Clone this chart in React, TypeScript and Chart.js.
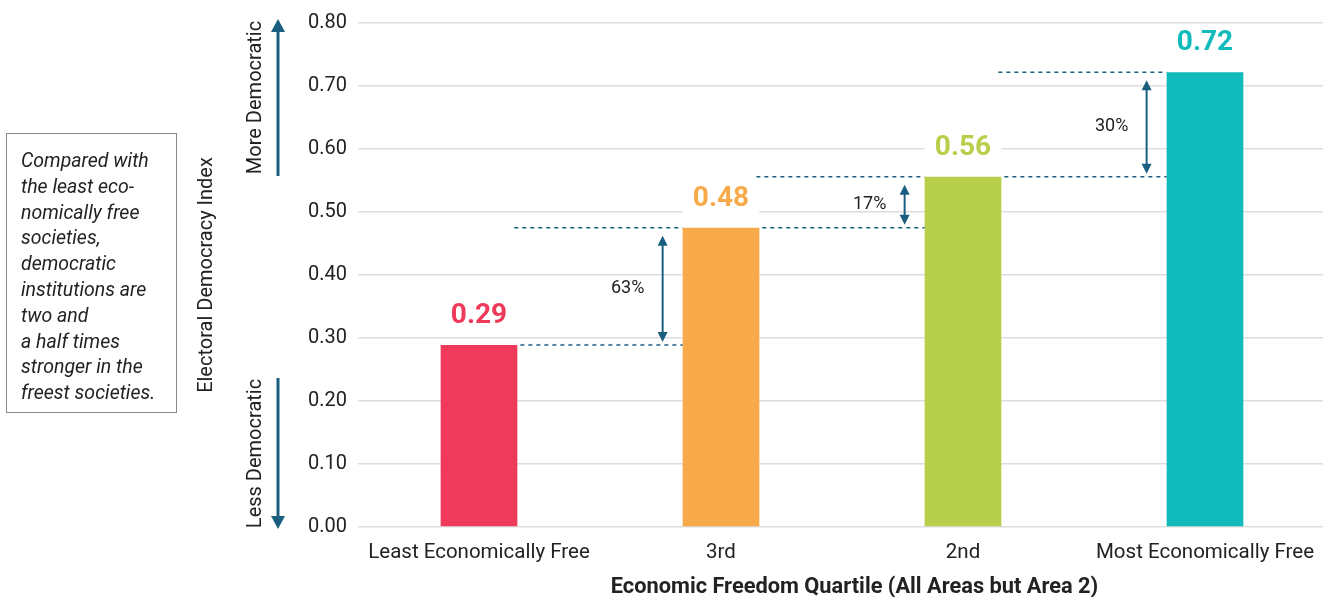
import React, { useEffect, useRef } from "react";
import { Chart, registerables } from "chart.js";
Chart.register(...registerables);

const categories = ["Least Economically Free", "3rd", "2nd", "Most Economically Free"];
const values = [0.289, 0.475, 0.556, 0.722];
const valueLabels = ["0.29", "0.48", "0.56", "0.72"];
const barColors = ["#EF3A5C", "#F8AA4B", "#B8CF4C", "#12BBBB"];
const changeLabels = ["63%", "17%", "30%"];
const yTitle = "Electoral Democracy Index";
const xTitle = "Economic Freedom Quartile (All Areas but Area 2)";
const upLabel = "More Democratic";
const downLabel = "Less Democratic";
const noteLines = [
  "Compared with",
  "the least eco-",
  "nomically free",
  "societies,",
  "democratic",
  "institutions are",
  "two and",
  "a half times",
  "stronger in the",
  "freest societies.",
];

const FONT = "Roboto, 'Noto Sans', sans-serif";
const ARROW = "#1B5F80";
const TEXT = "#222222";
const PAGE_W = 1323;
const CANVAS_W = 1328;

function drawArrowHead(ctx: CanvasRenderingContext2D, x: number, y: number, dir: number, w: number, h: number) {
  ctx.beginPath();
  ctx.moveTo(x, y);
  ctx.lineTo(x - w / 2, y + dir * h);
  ctx.lineTo(x + w / 2, y + dir * h);
  ctx.closePath();
  ctx.fill();
}

const annotationPlugin = {
  id: "annotations",
  afterDatasetsDraw(chart: any) {
    const ctx: CanvasRenderingContext2D = chart.ctx;
    const bars = chart.getDatasetMeta(0).data;
    ctx.save();
    for (let i = 0; i < bars.length - 1; i++) {
      const a = bars[i];
      const b = bars[i + 1];
      const x1 = a.x + a.width / 2;
      const x2 = b.x - b.width / 2;
      ctx.strokeStyle = ARROW;
      ctx.lineWidth = 1.5;
      ctx.setLineDash([4, 4]);
      ctx.beginPath();
      ctx.moveTo(x1 + 3, a.y);
      ctx.lineTo(x2, a.y);
      ctx.moveTo(x1 - 3, b.y);
      ctx.lineTo(x2, b.y);
      ctx.stroke();
      ctx.setLineDash([]);
      const ax = x2 - 20;
      const top = b.y + 8;
      const bot = a.y - 3;
      ctx.lineWidth = 2;
      ctx.beginPath();
      ctx.moveTo(ax, top + 6);
      ctx.lineTo(ax, bot - 6);
      ctx.stroke();
      ctx.fillStyle = ARROW;
      drawArrowHead(ctx, ax, top, 1, 10, 10);
      drawArrowHead(ctx, ax, bot, -1, 10, 10);
      ctx.fillStyle = TEXT;
      ctx.font = `18px ${FONT}`;
      ctx.textAlign = "center";
      ctx.textBaseline = "middle";
      ctx.fillText(changeLabels[i], ax - 35, (top + bot) / 2);
    }
    bars.forEach((el: any, i: number) => {
      const cy = el.y - 29;
      ctx.fillStyle = "#ffffff";
      ctx.fillRect(el.x - el.width / 2, cy - 17, el.width, 34);
      ctx.fillStyle = barColors[i];
      ctx.font = `bold 28px ${FONT}`;
      ctx.textAlign = "center";
      ctx.textBaseline = "middle";
      ctx.fillText(valueLabels[i], el.x, cy);
    });
    ctx.restore();
  },
  afterDraw(chart: any) {
    const ctx: CanvasRenderingContext2D = chart.ctx;
    const { left, top, bottom } = chart.chartArea;
    const ax = left - 80;
    const lx = left - 102;
    ctx.save();
    ctx.strokeStyle = ARROW;
    ctx.fillStyle = ARROW;
    ctx.lineWidth = 3;
    const upTop = top - 4;
    const upBot = top + 153;
    ctx.beginPath();
    ctx.moveTo(ax, upBot);
    ctx.lineTo(ax, upTop + 10);
    ctx.stroke();
    drawArrowHead(ctx, ax, upTop, 1, 14, 13);
    const dnTop = bottom - 149;
    const dnBot = bottom + 2;
    ctx.beginPath();
    ctx.moveTo(ax, dnTop);
    ctx.lineTo(ax, dnBot - 10);
    ctx.stroke();
    drawArrowHead(ctx, ax, dnBot, -1, 14, 13);
    ctx.fillStyle = TEXT;
    ctx.font = `20px ${FONT}`;
    ctx.textAlign = "center";
    ctx.textBaseline = "middle";
    ctx.save();
    ctx.translate(lx, (upTop + upBot) / 2);
    ctx.rotate(-Math.PI / 2);
    ctx.fillText(upLabel, 0, 0);
    ctx.restore();
    ctx.save();
    ctx.translate(lx, (dnTop + dnBot) / 2);
    ctx.rotate(-Math.PI / 2);
    ctx.fillText(downLabel, 0, 0);
    ctx.restore();
    ctx.font = `bold 21.8px ${FONT}`;
    ctx.fillText(xTitle, (left + PAGE_W) / 2 + 14, bottom + 61);
    ctx.restore();
  },
};

export default function App() {
  const ref = useRef<HTMLCanvasElement>(null);
  useEffect(() => {
    if (!ref.current) return;
    const chart = new Chart(ref.current, {
      type: "bar",
      data: {
        labels: categories,
        datasets: [
          {
            data: values,
            backgroundColor: barColors,
            barPercentage: 0.317,
            categoryPercentage: 1,
          },
        ],
      },
      options: {
        responsive: false,
        animation: false,
        layout: { padding: { left: 195, top: 22, right: 0, bottom: 0 } },
        plugins: { legend: { display: false }, tooltip: { enabled: false } },
        scales: {
          x: {
            grid: { display: false, drawTicks: false },
            border: { display: false },
            ticks: { color: TEXT, font: { family: FONT, size: 20.5 }, padding: 14, maxRotation: 0 },
            afterFit: (s: any) => {
              s.height = 70;
            },
          },
          y: {
            min: 0,
            max: 0.8,
            grid: { color: "#dddddd", lineWidth: 1.5, drawTicks: false },
            border: { display: false },
            ticks: {
              stepSize: 0.1,
              color: TEXT,
              font: { family: FONT, size: 20 },
              padding: 11,
              callback: (v: any) => Number(v).toFixed(2),
            },
            title: {
              display: true,
              text: yTitle,
              color: TEXT,
              font: { family: FONT, size: 20 },
              padding: { top: 0, bottom: 0 },
            },
            afterFit: (s: any) => {
              s.width = 163;
            },
          },
        },
      },
      plugins: [annotationPlugin],
    });
    return () => chart.destroy();
  }, []);

  return (
    <div
      style={{
        position: "fixed",
        left: 0,
        top: 0,
        width: PAGE_W,
        height: 597,
        background: "#fff",
        overflow: "hidden",
      }}
    >
      <canvas ref={ref} width={CANVAS_W} height={597} style={{ position: "absolute", left: 0, top: 0 }} />
      <div
        style={{
          position: "absolute",
          left: 6,
          top: 133,
          width: 171,
          height: 280,
          boxSizing: "border-box",
          border: "1px solid #888",
          padding: "14px 0 0 14px",
          fontFamily: FONT,
          fontStyle: "italic",
          fontSize: 19.5,
          lineHeight: "25.8px",
          color: TEXT,
          whiteSpace: "nowrap",
        }}
      >
        {noteLines.map((l, i) => (
          <div key={i}>{l}</div>
        ))}
      </div>
    </div>
  );
}
